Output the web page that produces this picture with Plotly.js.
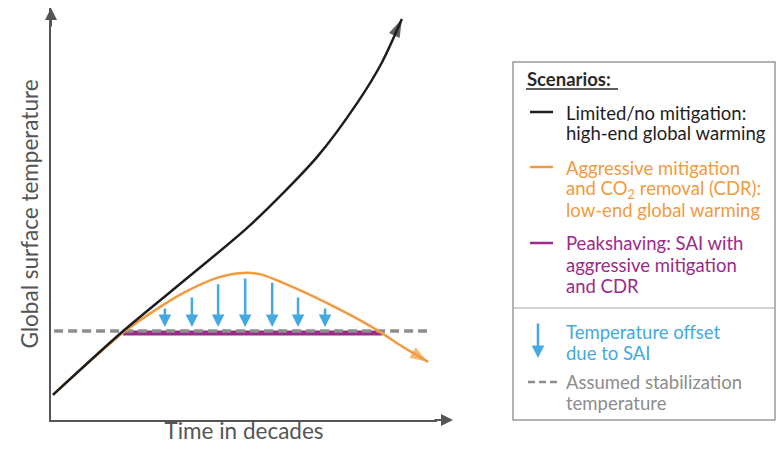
<!DOCTYPE html>
<html><head><meta charset="utf-8">
<script src="https://cdn.plot.ly/plotly-3.0.1.min.js"></script>
<style>html,body{margin:0;padding:0;background:#fff}</style>
</head><body>
<div id="chart" style="width:776px;height:449px"></div>
<script>
// ---- data (conceptual units: time 0-10, temperature 0-10) ----
const blackX = [0.05, 1.87, 3.60, 5.16, 6.89, 7.93, 8.58, 9.09];
const blackY = [0.61, 2.16, 3.50, 4.73, 6.38, 7.69, 8.69, 9.73];
const orangeX = [0.05, 1.01, 1.92, 2.82, 3.42, 4.30, 4.97, 5.41, 6.01, 6.89, 7.75, 8.52, 9.04, 9.77];
const orangeY = [0.61, 1.43, 2.16, 2.74, 3.08, 3.45, 3.57, 3.54, 3.33, 2.96, 2.55, 2.14, 1.82, 1.41];
const stabX = [0.08, 9.74];
const stabY = [2.16, 2.16];
const peakX = [1.87, 8.58];
const peakY = [2.11, 2.11];
const offsetX = [2.95, 3.65, 4.33, 5.03, 5.73, 6.40, 7.10];
const offsetTop = [2.74, 3.01, 3.33, 3.47, 3.37, 3.01, 2.74];
const offsetTip = 2.26;
const legendTitle = "Scenarios:";
const legendBlack = ["Limited/no mitigation:", "high-end global warming"];
const legendOrange = ["Aggressive mitigation", "and CO<sub>2</sub> removal (CDR):", "low-end global warming"];
const legendPurple = ["Peakshaving: SAI with", "aggressive mitigation", "and CDR"];
const legendBlue = ["Temperature offset", "due to SAI"];
const legendGray = ["Assumed stabilization", "temperature"];

const C = {black:'#1e1e1e', orange:'#f29a3f', purple:'#9c2a8a', blue:'#44a9df', gray:'#8d8d8d', axis:'#555555'};

// plot area in pixels
const L = 51, T = 8, W = 386, H = 412;
const px = x => (x - L) / W;
const py = y => (T + H - y) / H;

function arrowLine(xs, ys, color, width, size){
  return {
    x: xs, y: ys, type:'scatter', mode:'lines+markers',
    line:{color:color, width:width, shape:'spline', smoothing:0.8},
    marker:{
      symbol: xs.map((_,i)=> i===xs.length-1 ? 'arrow' : 'circle'),
      size: xs.map((_,i)=> i===xs.length-1 ? size : 0),
      color: color, angleref:'previous', line:{width:0}
    },
    hoverinfo:'skip', showlegend:false
  };
}

const traces = [
  {x: peakX, y: peakY, type:'scatter', mode:'lines', line:{color:C.purple, width:5}, hoverinfo:'skip', showlegend:false},
  {x: stabX, y: stabY, type:'scatter', mode:'lines', line:{color:C.gray, width:3.5, dash:'9px,5px'}, hoverinfo:'skip', showlegend:false},
  arrowLine(orangeX, orangeY, C.orange, 2.5, 19),
  arrowLine(blackX, blackY, C.black, 2.5, 19)
];

const ann = [];
offsetX.forEach((x,i)=>{
  ann.push({x:x, y:offsetTip, ax:x, ay:offsetTop[i], xref:'x', yref:'y', axref:'x', ayref:'y',
    showarrow:true, arrowhead:2, arrowsize:1, arrowwidth:2.5, arrowcolor:C.blue, text:''});
});
// axis arrowheads
ann.push({x:px(453), y:0, xref:'paper', yref:'paper', ax:-20, ay:0, showarrow:true, arrowhead:2, arrowsize:1.2, arrowwidth:2, arrowcolor:C.axis, text:''});
ann.push({x:0, y:1, xref:'paper', yref:'paper', ax:0, ay:20, showarrow:true, arrowhead:2, arrowsize:1.2, arrowwidth:2, arrowcolor:C.axis, text:''});

const LF = 'Lato, "Open Sans", sans-serif';
const FS = 18.5;
function txt(x, y, text, color, extra){
  return Object.assign({x:px(x), y:py(y), xref:'paper', yref:'paper', text:text, showarrow:false,
    xanchor:'left', yanchor:'middle', align:'left', font:{family:LF, size:FS, color:color}}, extra||{});
}
function block(lines, ys, color){
  lines.forEach((t,i)=> ann.push(txt(564, ys[i], t, color)));
}
ann.push(txt(525, 79, '<b>' + legendTitle + '</b>', '#2a2a2a', {font:{family:LF, size:18.5, color:'#2a2a2a'}}));
block(legendBlack, [113, 133], C.black);
block(legendOrange, [168, 189, 210], C.orange);
block(legendPurple, [243, 265, 286], C.purple);
block(legendBlue, [332, 353], C.blue);
block(legendGray, [382, 403], C.gray);
// legend blue arrow
ann.push({x:px(538), y:py(358), xref:'paper', yref:'paper', ax:0, ay:-36, showarrow:true, arrowhead:2, arrowsize:1, arrowwidth:2.5, arrowcolor:C.blue, text:''});

function seg(x0,y0,x1,y1,color,width,dash){
  return {type:'line', xref:'paper', yref:'paper', x0:px(x0), y0:py(y0), x1:px(x1), y1:py(y1),
    line:{color:color, width:width, dash:dash||'solid'}};
}
const shapes = [
  {type:'rect', xref:'paper', yref:'paper', x0:px(513), y0:py(62), x1:px(775), y1:py(420), line:{color:'#9a9a9a', width:1.5}, fillcolor:'rgba(0,0,0,0)'},
  seg(526, 89, 618, 89, '#2a2a2a', 1.3),
  seg(530, 112, 553, 112, C.black, 2.5),
  seg(530, 167, 553, 167, C.orange, 2.5),
  seg(530, 243, 553, 243, C.purple, 2.5),
  seg(513, 308, 775, 308, '#aaaaaa', 1.2),
  seg(528, 382, 558, 382, C.gray, 2.5, '7px,4px')
];

const layout = {
  width:776, height:449,
  margin:{l:L, r:776-L-W, t:T, b:449-T-H, pad:0},
  paper_bgcolor:'#fff', plot_bgcolor:'#fff',
  showlegend:false,
  xaxis:{range:[0,10], showgrid:false, zeroline:false, showticklabels:false, ticks:'',
    showline:true, linecolor:C.axis, linewidth:2, fixedrange:true,
    title:{text:'Time in decades', standoff:2, font:{family:LF, size:22.5, color:'#555'}}},
  yaxis:{range:[0,10], showgrid:false, zeroline:false, showticklabels:false, ticks:'',
    showline:true, linecolor:C.axis, linewidth:2, fixedrange:true,
    title:{text:'Global surface temperature', standoff:4, font:{family:LF, size:22.5, color:'#555'}}},
  annotations: ann,
  shapes: shapes
};
Plotly.newPlot('chart', traces, layout, {staticPlot:true, displayModeBar:false});
</script>
</body></html>
